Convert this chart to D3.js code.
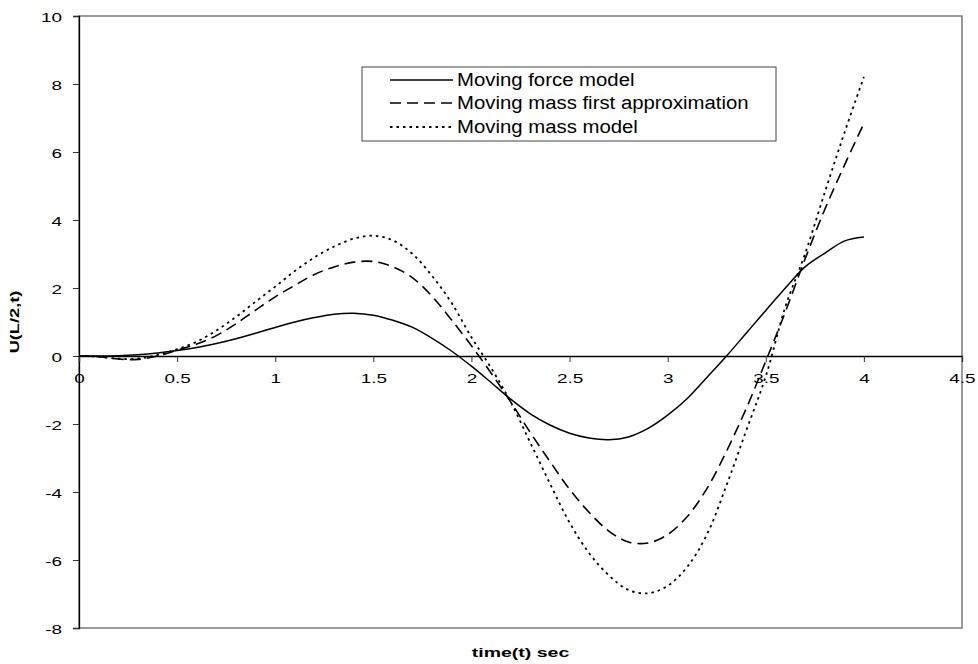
<!DOCTYPE html>
<html><head><meta charset="utf-8">
<script src="https://cdn.jsdelivr.net/npm/d3@7"></script>
<style>body{margin:0;background:#fff}svg{display:block}text{font-family:"Liberation Sans",Arial,sans-serif}</style>
</head><body><svg id="c" width="978" height="664"></svg>
<script>
const times = d3.range(0, 41).map(i => +(i * 0.1).toFixed(1));
const forceModel = [0,0,0.01,0.04,0.09,0.16,0.25,0.37,0.51,0.67,0.84,1.0,1.13,1.23,1.26,1.2,1.05,0.84,0.52,0.14,-0.3,-0.78,-1.27,-1.7,-2.03,-2.27,-2.41,-2.46,-2.38,-2.13,-1.74,-1.25,-0.63,0.0,0.67,1.34,2.0,2.62,3.02,3.38,3.5];
const massFirstApprox = [0,-0.02,-0.09,-0.1,0.0,0.17,0.35,0.6,0.95,1.35,1.74,2.08,2.4,2.62,2.76,2.78,2.62,2.3,1.75,1.05,0.3,-0.5,-1.35,-2.25,-3.1,-3.92,-4.6,-5.15,-5.47,-5.5,-5.25,-4.72,-3.9,-2.8,-1.55,-0.15,1.3,2.85,4.3,5.6,6.84];
const massModel = [0,-0.02,-0.08,-0.08,0.03,0.2,0.42,0.75,1.15,1.6,2.04,2.5,2.9,3.22,3.45,3.54,3.4,3.0,2.35,1.55,0.55,-0.35,-1.35,-2.55,-3.75,-4.9,-5.8,-6.45,-6.88,-6.98,-6.76,-6.2,-5.25,-3.8,-2.2,-0.6,1.45,3.0,4.8,6.55,8.21];
const seriesNames = ["Moving force model","Moving mass first approximation","Moving mass model"];
const xTicks = [0,0.5,1,1.5,2,2.5,3,3.5,4,4.5];
const yTicks = [-8,-6,-4,-2,0,2,4,6,8,10];

const svg = d3.select("#c");
const L = 79, R = 962, T = 16, B = 628;
const x = d3.scaleLinear().domain([0,4.5]).range([L,R]);
const y = d3.scaleLinear().domain([-8,10]).range([B,T]);

function stretch(sel, ratio){
  sel.each(function(){
    const w = this.getComputedTextLength();
    d3.select(this).attr("textLength", w*ratio).attr("lengthAdjust","spacingAndGlyphs");
  });
}

// frame
svg.append("rect").attr("x",L).attr("y",T).attr("width",R-L).attr("height",B-T)
  .attr("fill","none").attr("stroke","#666").attr("stroke-width",1.3);

// y axis
const ya = svg.append("g").attr("transform",`translate(${L},0)`)
  .call(d3.axisLeft(y).tickValues(yTicks).tickSize(6).tickPadding(11).tickFormat(d => String(d)));
ya.select(".domain").attr("stroke","#000").attr("stroke-width",1.3);
ya.selectAll(".tick line").attr("stroke","#333");
ya.selectAll("text").attr("font-size",13.5).attr("fill","#000").attr("dy","0.42em").call(stretch,1.4);

// x axis at zero
const xa = svg.append("g").attr("transform",`translate(0,${y(0)})`)
  .call(d3.axisBottom(x).tickValues(xTicks).tickSize(6).tickPadding(7).tickFormat(d => String(d)));
xa.select(".domain").attr("stroke","#000").attr("stroke-width",1.3);
xa.selectAll(".tick line").attr("stroke","#333");
xa.selectAll("text").attr("font-size",13.5).attr("fill","#000").attr("y",27).attr("dy",0).call(stretch,1.4);

// titles
svg.append("text").attr("x",(L+R)/2).attr("y",657).attr("text-anchor","middle")
  .attr("font-size",13).attr("font-weight","bold").text("time(t) sec").call(stretch,1.5);
svg.append("text").attr("transform",`translate(19,${(T+B)/2}) rotate(-90)`).attr("text-anchor","middle")
  .attr("font-size",13).attr("font-weight","bold").text("U(L/2,t)").call(stretch,1.4);

const styles = [
  {dash:null, w:1.5},
  {dash:"11,6", w:1.6},
  {dash:"2.5,4", w:1.8}
];
const data = [forceModel, massFirstApprox, massModel];
const line = d3.line().x((d,i)=>x(times[i])).y(d=>y(d)).curve(d3.curveCatmullRom.alpha(0.5));
data.forEach((s,k)=>{
  svg.append("path").datum(s).attr("d",line).attr("fill","none").attr("stroke","#000")
    .attr("stroke-width",styles[k].w).attr("stroke-dasharray",styles[k].dash);
});

// legend
const lg = svg.append("g");
lg.append("rect").attr("x",362).attr("y",67).attr("width",414).attr("height",74)
  .attr("fill","#fff").attr("stroke","#444").attr("stroke-width",1);
const rowsY = [80,103,127];
seriesNames.forEach((n,k)=>{
  lg.append("line").attr("x1",390).attr("x2",453).attr("y1",rowsY[k]).attr("y2",rowsY[k])
    .attr("stroke","#000").attr("stroke-width",styles[k].w).attr("stroke-dasharray",styles[k].dash);
  lg.append("text").attr("x",457).attr("y",rowsY[k]).attr("dy","0.36em").attr("font-size",18).text(n).call(stretch,1.13);
});
</script></body></html>
